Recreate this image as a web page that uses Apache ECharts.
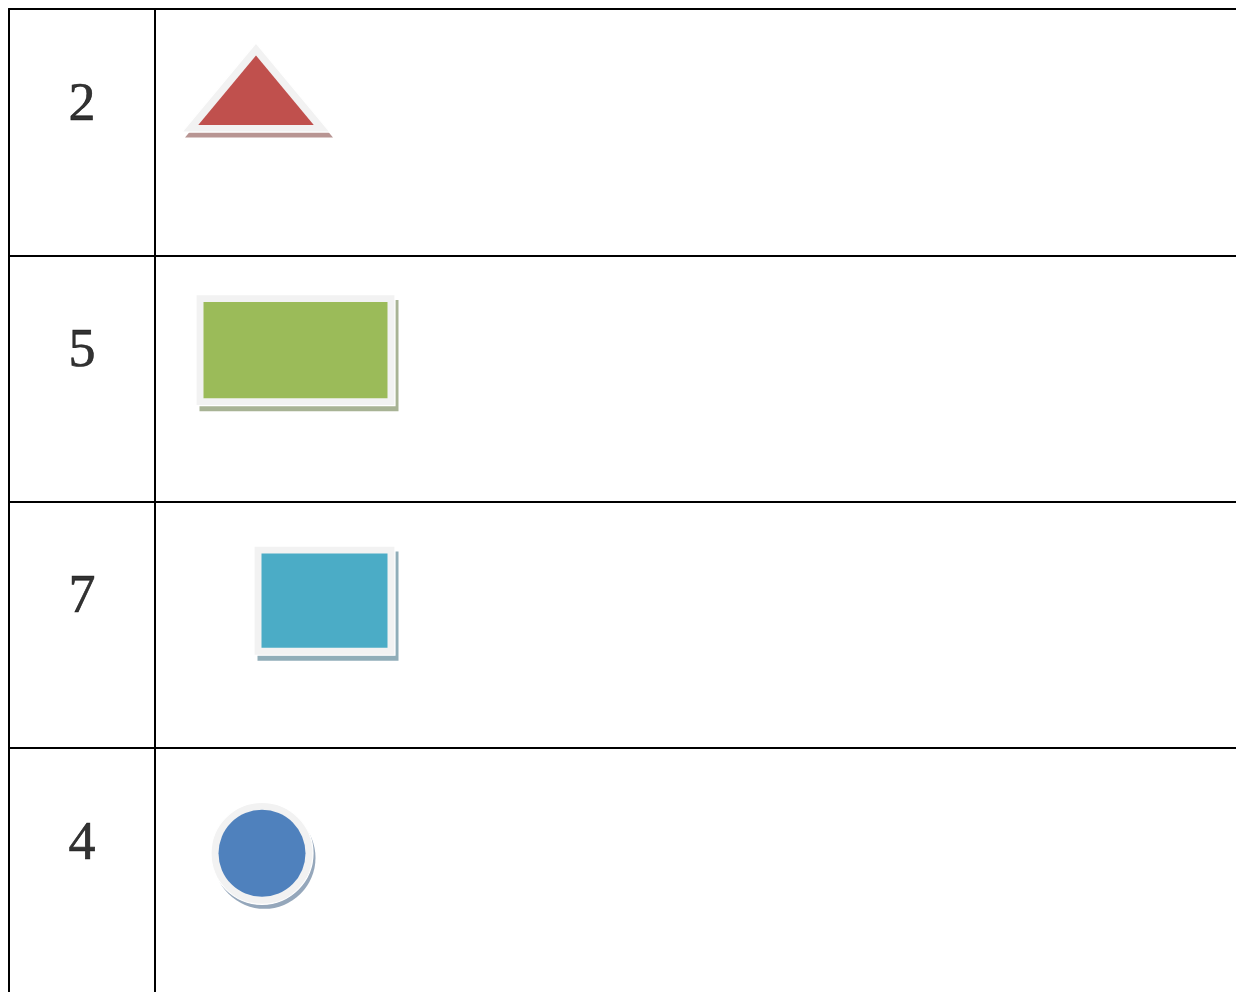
<!DOCTYPE html>
<html>
<head>
<meta charset="utf-8">
<script src="https://cdn.jsdelivr.net/npm/echarts@6/dist/echarts.min.js"></script>
<style>
  html, body { margin: 0; padding: 0; background: #ffffff; }
  #chart { width: 1236px; height: 992px; }
</style>
</head>
<body>
<div id="chart"></div>
<script>
// ---- data ----
// row labels (left column), one per table row
var rowLabels = ['2', '5', '7', '4'];
// shape drawn in each row
var shapeKinds = ['triangle', 'rect', 'rect', 'circle'];
// shape centre on the x axis (x units) and y axis (row units, 0 = top of table)
var shapeX = [247, 286.5, 315.5, 253];
var shapeY = [0.319, 1.385, 2.402, 3.4275];
// shape outer width (x units) and outer height (row units)
var shapeW = [148, 199, 141, 102];
var shapeH = [0.361, 0.451, 0.443, 0.4142];

// ---- layout / style ----
var GRID_W = 1227;          // x axis span
var DIVIDER_X = 146;        // first column width in x units
var LABEL_ROW_POS = 0.392;  // label position inside a row
var fillColors = ['#c0504d', '#9bbb59', '#4bacc6', '#4f81bd'];
var shadowColors = ['#b89593', '#a8b395', '#90adb8', '#95a7bb'];
var shadowOffsets = [[3, 5.5], [3.5, 5.5], [3.5, 5.5], [2.5, 4.5]];
var FRAME = '#f2f2f2';
var FRAME_W = 7.5;

var shapeData = shapeX.map(function (x, i) {
  return [x, shapeY[i], shapeW[i], shapeH[i]];
});
var labelData = rowLabels.map(function (l, i) {
  return { name: l, value: [DIVIDER_X / 2, i + LABEL_ROW_POS] };
});

function shapeEl(kind, cx, cy, w, h, inset, style) {
  if (kind === 'rect') {
    return { type: 'rect', shape: { x: cx - w / 2 + inset, y: cy - h / 2 + inset, width: w - 2 * inset, height: h - 2 * inset }, style: style };
  }
  if (kind === 'circle') {
    return { type: 'circle', shape: { cx: cx, cy: cy, r: w / 2 - inset }, style: style };
  }
  // triangle: apex up, inner triangle similar to the outer one
  var top = cy - h / 2, bottom = cy + h / 2;
  var t = top + inset * 1.65, b = bottom - inset * 0.95;
  var hh = b - t, ww = w * hh / h;
  return { type: 'polygon', shape: { points: [[cx, t], [cx + ww / 2, b], [cx - ww / 2, b]] }, style: style };
}

function renderShape(params, api) {
  var i = params.dataIndex;
  var kind = shapeKinds[i];
  var c = api.coord([api.value(0), api.value(1)]);
  var w = api.size([api.value(2), 0])[0];
  var h = api.size([0, api.value(3)])[1];
  var off = shadowOffsets[i];
  return {
    type: 'group',
    children: [
      shapeEl(kind, c[0] + off[0], c[1] + off[1], w, h, 0, { fill: shadowColors[i] }),
      shapeEl(kind, c[0], c[1], w, h, 0, { fill: FRAME, stroke: '#ffffff', lineWidth: 1.2 }),
      shapeEl(kind, c[0], c[1], w, h, FRAME_W, { fill: fillColors[i] })
    ]
  };
}

var chart = echarts.init(document.getElementById('chart'));
chart.setOption({
  animation: false,
  backgroundColor: '#ffffff',
  grid: { left: 9, top: 9, width: GRID_W, height: 985.3, outerBoundsMode: 'none', containLabel: false },
  xAxis: {
    type: 'value', min: 0, max: GRID_W, position: 'top',
    axisLine: { show: true, lineStyle: { color: '#000', width: 2 } },
    axisTick: { show: false }, axisLabel: { show: false }, splitLine: { show: false }
  },
  yAxis: {
    type: 'value', min: 0, max: 4, interval: 1, inverse: true,
    axisLine: { show: true, lineStyle: { color: '#000', width: 2 } },
    axisTick: { show: false }, axisLabel: { show: false },
    splitLine: { show: true, lineStyle: { color: '#000', width: 2 } }
  },
  series: [
    {
      type: 'scatter',
      data: labelData,
      symbolSize: 1,
      itemStyle: { color: 'rgba(0,0,0,0)' },
      label: {
        show: true, position: 'inside', formatter: '{b}',
        fontFamily: 'Liberation Serif', fontSize: 54, color: '#000000',
        textBorderColor: '#000000', textBorderWidth: 0.6
      },
      markLine: {
        silent: true, symbol: 'none', label: { show: false },
        lineStyle: { color: '#000', width: 2, type: 'solid' },
        data: [{ xAxis: DIVIDER_X }]
      }
    },
    {
      type: 'custom',
      renderItem: renderShape,
      clip: false,
      data: shapeData
    }
  ]
});
</script>
</body>
</html>
